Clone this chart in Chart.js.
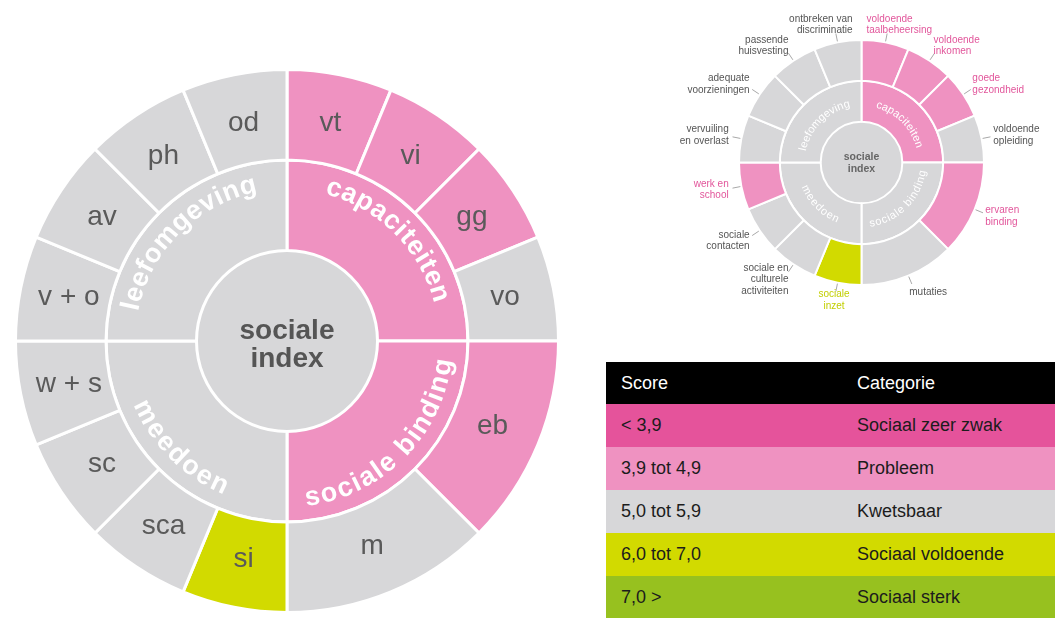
<!DOCTYPE html>
<html>
<head>
<meta charset="utf-8">
<script src="https://cdn.jsdelivr.net/npm/chart.js@4/dist/chart.umd.min.js"></script>
<style>
  html, body { margin:0; padding:0; background:#fff; }
  body { width:1055px; height:618px; position:relative; overflow:hidden; font-family:'Liberation Sans', Arial, sans-serif; }
  #big { position:absolute; left:14px; top:68px; }
  #small { position:absolute; left:680px; top:0px; }
  #legendTable { position:absolute; left:606px; top:362px; width:449px; border-collapse:collapse; font-size:18px; }
  #legendTable td, #legendTable th { padding:0 0 0 15px; text-align:left; font-weight:normal; color:#1c1c1c; height:43px; }
  #legendTable th { background:#000; color:#fff; height:42px; }
  #legendTable td:first-child, #legendTable th:first-child { width:221px; }
</style>
</head>
<body>
<canvas id="big" width="546" height="546"></canvas>
<canvas id="small" width="364" height="326"></canvas>
<table id="legendTable"><thead><tr><th id="h0"></th><th id="h1"></th></tr></thead><tbody id="tb"></tbody></table>
<script>
// ---------- data ----------
const categoryKeys   = ['zeerZwak', 'probleem', 'kwetsbaar', 'voldoende', 'sterk'];
const categoryScores = ['< 3,9', '3,9 tot 4,9', '5,0 tot 5,9', '6,0 tot 7,0', '7,0 >'];
const categoryNames  = ['Sociaal zeer zwak', 'Probleem', 'Kwetsbaar', 'Sociaal voldoende', 'Sociaal sterk'];
const categoryColors = ['#e5539b', '#ef92c1', '#d7d7d9', '#d2da00', '#97c11f'];
const categoryTextColors = ['#d63d86', '#e2569b', '#555555', '#c2cf00', '#7fa814'];
const tableHeader = ['Score', 'Categorie'];

const indexLabel = ['sociale', 'index'];
const domainLabels  = ['capaciteiten', 'sociale binding', 'meedoen', 'leefomgeving'];
const domainWeights = [4, 4, 4, 4];

const outerWeights = [1, 1, 1, 1, 2, 2, 1, 1, 1, 1, 1, 1, 1, 1];

const bigOuterLabels = ['vt', 'vi', 'gg', 'vo', 'eb', 'm', 'si', 'sca', 'sc', 'w + s', 'v + o', 'av', 'ph', 'od'];
const bigOuterCat  = ['probleem','probleem','probleem','kwetsbaar','probleem','kwetsbaar','voldoende','kwetsbaar','kwetsbaar','kwetsbaar','kwetsbaar','kwetsbaar','kwetsbaar','kwetsbaar'];
const bigDomainCat = ['probleem','probleem','kwetsbaar','kwetsbaar'];
const bigIndexCat  = 'kwetsbaar';

const smallOuterLabels = ['voldoende\ntaalbeheersing', 'voldoende\ninkomen', 'goede\ngezondheid', 'voldoende\nopleiding',
  'ervaren\nbinding', 'mutaties', 'sociale\ninzet', 'sociale en\nculturele\nactiviteiten', 'sociale\ncontacten',
  'werk en\nschool', 'vervuiling\nen overlast', 'adequate\nvoorzieningen', 'passende\nhuisvesting', 'ontbreken van\ndiscriminatie'];
const smallOuterCat  = ['probleem','probleem','probleem','kwetsbaar','probleem','kwetsbaar','voldoende','kwetsbaar','kwetsbaar','probleem','kwetsbaar','kwetsbaar','kwetsbaar','kwetsbaar'];
const smallDomainCat = ['probleem','kwetsbaar','kwetsbaar','kwetsbaar'];
const smallIndexCat  = 'kwetsbaar';

// ---------- helpers ----------
const FONT = "'Liberation Sans', Arial, sans-serif";
const col = k => categoryColors[categoryKeys.indexOf(k)];
const tcol = k => categoryTextColors[categoryKeys.indexOf(k)];

// table
document.getElementById('h0').textContent = tableHeader[0];
document.getElementById('h1').textContent = tableHeader[1];
const tb = document.getElementById('tb');
categoryKeys.forEach((k, i) => {
  const tr = document.createElement('tr');
  tr.style.background = categoryColors[i];
  const a = document.createElement('td'); a.textContent = categoryScores[i];
  const b = document.createElement('td'); b.textContent = categoryNames[i];
  tr.appendChild(a); tr.appendChild(b); tb.appendChild(tr);
});

function drawCurved(ctx, text, cx, cy, rAdv, rTop, rBot, mid, spacing) {
  const bottom = Math.sin(mid) > 0;
  const chars = [...text];
  const widths = chars.map(ch => ctx.measureText(ch).width);
  const total = widths.reduce((a, b) => a + b, 0) + spacing * (chars.length - 1);
  const span = total / rAdv;
  let acc = 0;
  ctx.textAlign = 'center';
  ctx.textBaseline = 'alphabetic';
  chars.forEach((ch, i) => {
    const off = (acc + widths[i] / 2) / rAdv;
    const a = bottom ? mid + span / 2 - off : mid - span / 2 + off;
    ctx.save();
    ctx.translate(cx, cy);
    if (bottom) { ctx.rotate(a - Math.PI / 2); ctx.fillText(ch, 0, rBot); }
    else { ctx.rotate(a + Math.PI / 2); ctx.fillText(ch, 0, -rTop); }
    ctx.restore();
    acc += widths[i] + spacing;
  });
}

function makeSunburst(canvasId, cfg) {
  const labelPlugin = {
    id: 'sunLabels',
    afterDatasetsDraw(chart) {
      const ctx = chart.ctx;
      const outer = chart.getDatasetMeta(0).data;
      const mid = chart.getDatasetMeta(1).data;
      const cx = outer[0].x, cy = outer[0].y;
      const R = outer[0].outerRadius;
      const rMid = mid[0].outerRadius;
      ctx.save();
      // domain curved labels
      ctx.fillStyle = '#ffffff';
      ctx.font = cfg.domainFont;
      mid.forEach((arc, i) => {
        const m = (arc.startAngle + arc.endAngle) / 2;
        drawCurved(ctx, cfg.domainLabels[i], cx, cy, rMid * cfg.advF, rMid * cfg.topF, rMid * cfg.botF, m, cfg.spacing);
      });
      // center label
      ctx.fillStyle = cfg.centerColor;
      ctx.font = cfg.centerFont;
      ctx.textAlign = 'center';
      ctx.textBaseline = 'middle';
      cfg.centerText.forEach((t, j) => ctx.fillText(t, cx, cy + cfg.centerOffsets[j]));
      // outer labels
      outer.forEach((arc, i) => {
        const m = (arc.startAngle + arc.endAngle) / 2;
        const c = Math.cos(m), s = Math.sin(m);
        if (cfg.inside) {
          const r = R * cfg.inside;
          ctx.fillStyle = cfg.outerColor;
          ctx.font = cfg.outerFont;
          ctx.textAlign = 'center';
          ctx.textBaseline = 'middle';
          ctx.fillText(cfg.outerLabels[i], cx + r * c, cy + r * s);
        } else {
          // leader line
          ctx.strokeStyle = '#a8a8a8';
          ctx.lineWidth = 1;
          ctx.beginPath();
          ctx.moveTo(cx + (R + 1) * c, cy + (R + 1) * s);
          ctx.lineTo(cx + (R + 9) * c, cy + (R + 9) * s);
          ctx.stroke();
          const r = R + 18;
          let x = cx + r * c;
          const y = cy + r * s;
          let align = 'center';
          if (c > 0.3) { align = 'left'; x -= 6; }
          else if (c < -0.3) { align = 'right'; x += 5; }
          else if (s < 0) { align = c > 0 ? 'left' : 'right'; x = cx + (c > 0 ? 5 : -9); }
          const lines = cfg.outerLabels[i].split('\n');
          ctx.fillStyle = cfg.outerTextColors[i];
          ctx.font = cfg.outerFont;
          ctx.textAlign = align;
          ctx.textBaseline = 'middle';
          const lh = 11.5;
          lines.forEach((ln, j) => ctx.fillText(ln, x, y + (j - (lines.length - 1) / 2) * lh));
        }
      });
      ctx.restore();
    }
  };
  return new Chart(document.getElementById(canvasId), {
    type: 'doughnut',
    data: {
      labels: cfg.outerLabels,
      datasets: [
        { data: outerWeights, backgroundColor: cfg.outerCat.map(col), borderColor: '#fff', borderWidth: cfg.bw },
        { data: domainWeights, backgroundColor: cfg.domainCat.map(col), borderColor: '#fff', borderWidth: cfg.bw },
        { data: [1], backgroundColor: [col(cfg.indexCat)], borderWidth: 0 }
      ]
    },
    options: {
      responsive: false,
      animation: false,
      events: [],
      cutout: 0,
      layout: { padding: cfg.padding },
      plugins: { legend: { display: false }, tooltip: { enabled: false } }
    },
    plugins: [labelPlugin]
  });
}

makeSunburst('big', {
  outerLabels: bigOuterLabels, outerCat: bigOuterCat, domainCat: bigDomainCat, indexCat: bigIndexCat,
  domainLabels: domainLabels, bw: 3, padding: 0,
  domainFont: 'bold 27px ' + FONT, advF: 158 / 180, topF: 151 / 180, botF: 165 / 180, spacing: 1.2,
  centerText: indexLabel, centerFont: 'bold 28px ' + FONT, centerColor: '#555555', centerOffsets: [-10, 18],
  inside: 222 / 271, outerFont: '28px ' + FONT, outerColor: '#5a5a5a'
});

makeSunburst('small', {
  outerLabels: smallOuterLabels, outerCat: smallOuterCat, domainCat: smallDomainCat, indexCat: smallIndexCat,
  domainLabels: domainLabels, bw: 2, padding: { left: 58, right: 59, top: 39, bottom: 40 },
  domainFont: '11px ' + FONT, advF: 61 / 82, topF: 57 / 82, botF: 65 / 82, spacing: 0.5,
  centerText: indexLabel, centerFont: 'bold 10.5px ' + FONT, centerColor: '#666666', centerOffsets: [-5, 7],
  inside: 0, outerFont: '10px ' + FONT, outerTextColors: smallOuterCat.map(tcol)
});
</script>
</body>
</html>
